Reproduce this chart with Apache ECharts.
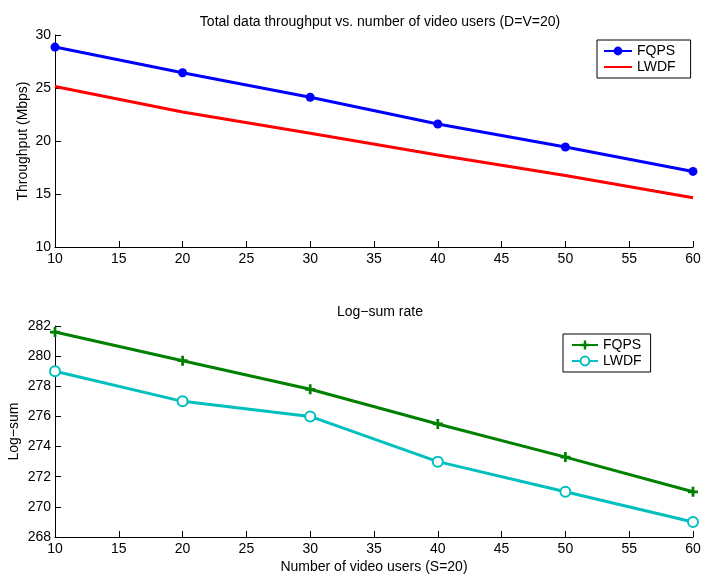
<!DOCTYPE html>
<html>
<head>
<meta charset="utf-8">
<script src="https://cdn.jsdelivr.net/npm/echarts@6/dist/echarts.min.js"></script>
<style>
  html, body { margin: 0; padding: 0; background: #fff; }
  #chart { width: 701px; height: 578px; }
</style>
</head>
<body>
<div id="chart"></div>
<script>
// Number of video users on the x axis
const users = [10, 20, 30, 40, 50, 60];

// Top panel: total data throughput (Mbps)
const throughputFQPS = [28.86, 26.44, 24.13, 21.6, 19.43, 17.13];
const throughputLWDF = [25.14, 22.74, 20.73, 18.68, 16.75, 14.64];

// Bottom panel: log-sum rate
const logsumFQPS = [281.6, 279.7, 277.8, 275.5, 273.3, 271.0];
const logsumLWDF = [279, 277, 276, 273, 271, 269];

const pairs = (ys) => users.map((x, i) => [x, ys[i]]);

const FONT = 'Liberation Sans, Arial, sans-serif';
const FS = 14;
// plus-shaped marker (filled cross)
const plusPath = 'path://M3.4,0h2.6v3.4h3.4v2.6h-3.4v3.4h-2.6v-3.4h-3.4v-2.6h3.4z';

function xAxis(gridIndex, name) {
  return {
    type: 'value', gridIndex, min: 10, max: 60, interval: 5,
    name: name || '', nameLocation: 'middle', nameGap: 23, nameMoveOverlap: false,
    nameTextStyle: { color: '#000', fontFamily: FONT, fontSize: FS },
    axisLine: { show: true, lineStyle: { color: '#000', width: 1 } },
    axisTick: { show: true, inside: true, length: 6, lineStyle: { color: '#000' } },
    axisLabel: { color: '#000', fontFamily: FONT, fontSize: FS, margin: 5 },
    splitLine: { show: false }
  };
}

function yAxis(gridIndex, min, max, interval, name, gap) {
  return {
    type: 'value', gridIndex, min, max, interval,
    name, nameLocation: 'middle', nameGap: gap, nameMoveOverlap: false,
    nameTextStyle: { color: '#000', fontFamily: FONT, fontSize: FS },
    axisLine: { show: true, lineStyle: { color: '#000', width: 1 } },
    axisTick: { show: true, inside: true, length: 6, lineStyle: { color: '#000' } },
    axisLabel: { color: '#000', fontFamily: FONT, fontSize: FS, margin: 4 },
    splitLine: { show: false }
  };
}

function legend(left, top, names, padding, itemWidth) {
  return {
    left, top, orient: 'vertical',
    data: names,
    formatter: (n) => n.trim(),
    backgroundColor: '#fff',
    borderColor: '#000', borderWidth: 1, borderRadius: 0,
    padding,
    itemGap: 0, itemWidth, itemHeight: 11,
    textStyle: { color: '#000', fontFamily: FONT, fontSize: FS, lineHeight: 16 },
    selectedMode: false
  };
}

const chart = echarts.init(document.getElementById('chart'), null, { renderer: 'canvas' });
chart.setOption({
  animation: false,
  backgroundColor: '#fff',
  title: [
    { text: 'Total data throughput vs. number of video users (D=V=20)', left: 375, top: 10, textAlign: 'center',
      textStyle: { color: '#000', fontFamily: FONT, fontSize: FS, fontWeight: 'normal' } },
    { text: 'Log\u2212sum rate', left: 375, top: 300, textAlign: 'center',
      textStyle: { color: '#000', fontFamily: FONT, fontSize: FS, fontWeight: 'normal' } }
  ],
  grid: [
    { left: 55, top: 35, width: 638, height: 212, outerBoundsMode: 'none', containLabel: false },
    { left: 55, top: 326, width: 638, height: 211, outerBoundsMode: 'none', containLabel: false }
  ],
  xAxis: [xAxis(0), xAxis(1, 'Number of video users (S=20)')],
  yAxis: [
    yAxis(0, 10, 30, 5, 'Throughput (Mbps)', 25),
    yAxis(1, 268, 282, 2, 'Log\u2212sum', 34)
  ],
  legend: [
    legend(597, 40, ['FQPS', { name: 'LWDF', itemStyle: { opacity: 0 } }], [3, 15, 3, 6], 28),
    legend(563, 334, ['FQPS ', 'LWDF '], [3, 9, 3, 8], 26)
  ],
  series: [
    { name: 'FQPS', type: 'line', xAxisIndex: 0, yAxisIndex: 0, data: pairs(throughputFQPS),
      symbol: 'circle', symbolSize: 9, color: '#0000ff',
      lineStyle: { width: 3, color: '#0000ff' }, itemStyle: { color: '#0000ff' } },
    { name: 'LWDF', type: 'line', xAxisIndex: 0, yAxisIndex: 0, data: pairs(throughputLWDF),
      symbol: 'none', color: '#ff0000',
      lineStyle: { width: 3, color: '#ff0000' } },
    { name: 'FQPS ', type: 'line', xAxisIndex: 1, yAxisIndex: 1, data: pairs(logsumFQPS),
      symbol: plusPath, symbolSize: 10, color: '#008000',
      lineStyle: { width: 3, color: '#008000' }, itemStyle: { color: '#008000' } },
    { name: 'LWDF ', type: 'line', xAxisIndex: 1, yAxisIndex: 1, data: pairs(logsumLWDF),
      symbol: 'emptyCircle', symbolSize: 10, color: '#00bfbf',
      lineStyle: { width: 3, color: '#00bfbf' },
      itemStyle: { color: '#00bfbf', borderColor: '#00bfbf', borderWidth: 2.5 } }
  ]
});
</script>
</body>
</html>
